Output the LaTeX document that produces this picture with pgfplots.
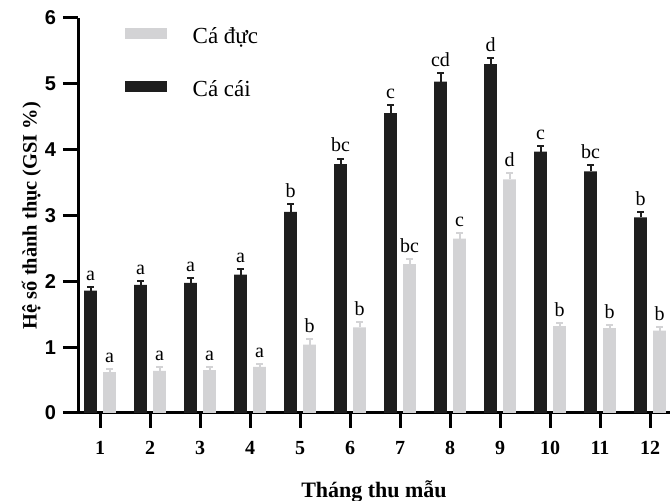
\documentclass[border=0pt]{standalone}
\usepackage{pgfplots}
\pgfplotsset{compat=1.18}
\usepackage{pgfplotstable}
\usepackage{fontspec}
\setmainfont{Liberation Serif}
\newfontfamily\arialfont{Liberation Sans}
\definecolor{barblack}{RGB}{30,30,30}
\definecolor{bargray}{RGB}{211,211,213}

\pgfplotstableread{
x  b     be    bl  g     ge    gl
1  1.86  0.05  a   0.62  0.045 a
2  1.945 0.065 a   0.64  0.06  a
3  1.975 0.07  a   0.65  0.05  a
4  2.10  0.085 a   0.70  0.05  a
5  3.055 0.12  b   1.04  0.09  b
6  3.78  0.085 bc  1.30  0.08  b
7  4.555 0.125 c   2.26  0.075 bc
8  5.035 0.13  cd  2.65  0.08  c
9  5.30  0.09  d   3.55  0.09  d
10 3.97  0.09  c   1.32  0.05  b
11 3.67  0.09  bc  1.29  0.045 b
12 2.97  0.08  b   1.25  0.06  b
}\data

\begin{document}
\begin{tikzpicture}
\begin{axis}[
  name=ax,
  scale only axis,
  width=296pt, height=197.5pt,
  xmin=0.56, xmax=12.4,
  ymin=0, ymax=6,
  clip=false,
  axis x line*=bottom,
  axis y line*=left,
  axis line style={line width=1.5pt, black},
  every tick/.style={line width=1.5pt, black},
  tick align=outside,
  major tick length=7.5pt,
  xtick={1,...,12},
  ytick={0,...,6},
  /pgf/number format/assume math mode=true,
  xticklabel style={font=\fontsize{10}{12}\selectfont\bfseries, yshift=-3pt},
  yticklabel style={font=\arialfont\fontsize{10}{12}\selectfont\bfseries},
  xlabel={Tháng thu mẫu},
  ylabel={Hệ số thành thục (GSI \%)},
  every axis x label/.style={at={([yshift=-42.5pt]axis description cs:0.5,0)}, anchor=base, font=\fontsize{11}{13}\selectfont\bfseries},
  every axis y label/.style={at={([xshift=-20.65pt]axis description cs:0,0.5)}, rotate=90, anchor=base, font=\fontsize{10.2}{12}\selectfont\bfseries},
  legend style={draw=none, fill=none, inner sep=0pt, outer sep=0pt,
    at={(rel axis cs:0.0794,0.987)}, anchor=north west,
    font=\fontsize{11.5}{13}\selectfont, row sep=12.5pt,
    nodes={text height=8pt, text depth=2pt, inner sep=2pt}},
  legend cell align=left,
  legend image code/.code={\fill[#1] (0pt,-0.75pt) rectangle (21pt,4.5pt); \path[draw=none, fill=none] (0pt,0pt) -- (31.85pt,0pt);},
]
\addlegendimage{fill=bargray, draw=none}
\addlegendimage{fill=barblack, draw=none}

\addplot[ybar, bar width=0.254, bar shift=0pt, fill=barblack, draw=none, forget plot,
  error bars/.cd, y dir=plus, y explicit,
  error bar style={line width=1pt, barblack},
  error mark options={rotate=90, mark size=1.7pt, line width=1pt, barblack}]
  table[x expr=\thisrow{x}-0.19, y=b, y error=be] {\data};
\addplot[ybar, bar width=0.254, bar shift=0pt, fill=bargray, draw=none, forget plot,
  error bars/.cd, y dir=plus, y explicit,
  error bar style={line width=1pt, bargray},
  error mark options={rotate=90, mark size=1.7pt, line width=1pt, bargray}]
  table[x expr=\thisrow{x}+0.19, y=g, y error=ge] {\data};

\addplot[draw=none, mark=none, forget plot, nodes near coords, point meta=explicit symbolic,
  nodes near coords style={font=\fontsize{10}{12}\selectfont, anchor=south, inner sep=3pt}]
  table[x expr=\thisrow{x}-0.19, y expr=\thisrow{b}+\thisrow{be}, meta=bl] {\data};
\addplot[draw=none, mark=none, forget plot, nodes near coords, point meta=explicit symbolic,
  nodes near coords style={font=\fontsize{10}{12}\selectfont, anchor=south, inner sep=3pt}]
  table[x expr=\thisrow{x}+0.19, y expr=\thisrow{g}+\thisrow{ge}, meta=gl] {\data};

\legend{Cá đực, Cá cái}
\coordinate (bl) at (rel axis cs:-0.13176,-0.22278);
\coordinate (tr) at (rel axis cs:1,1.04557);
\end{axis}
\pgfresetboundingbox
\path (bl) rectangle (tr);
\end{tikzpicture}
\end{document}
